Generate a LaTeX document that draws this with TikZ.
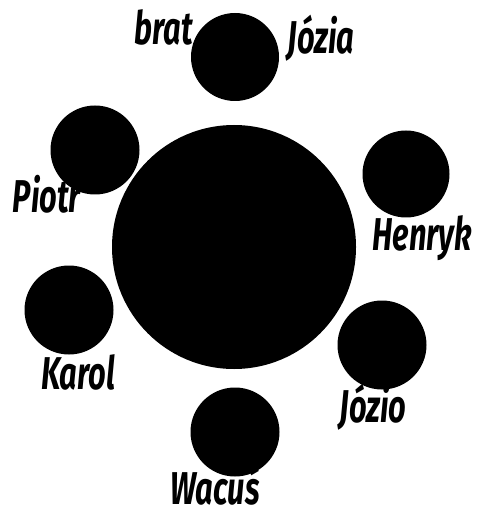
\documentclass[tikz,border=0pt]{standalone}
\usepackage{fontspec}
\newfontfamily\handfont{Fira Sans}
\tikzset{
  seat/.style={circle, fill=black, inner sep=0pt, minimum size=#1},
  guest/.style={font=\handfont\bfseries\itshape\fontsize{46}{46}\selectfont, xscale=0.67, inner sep=0pt}
}
\begin{document}
\begin{tikzpicture}[x=1pt, y=-1pt]
    \useasboundingbox (0,0) rectangle (482,518);
    % Table
    \node[seat=244pt] (table) at (234,247) {};

    % Chairs
    \node[seat=88pt] (top)      at (235,57)  {};
    \node[seat=89pt] (upleft)   at (95,150)  {};
    \node[seat=87pt] (right)    at (406,174) {};
    \node[seat=89pt] (left)     at (69,310)  {};
    \node[seat=89pt] (lowright) at (382,345) {};
    \node[seat=89pt] (bottom)   at (235,432) {};

    % Names
    \node[guest] (brat)   at (164,27)  {brat};
    \node[guest] (jozia)  at (321,38)  {Józia};
    \node[guest] (piotr)  at (47,194)  {Piotr};
    \node[guest] (henryk) at (422,238) {Henryk};
    \node[guest] (karol)  at (78,372)  {Karol};
    \node[guest] (jozio)  at (373,407) {Józio};
    \node[guest] (wacus)  at (215,486) {Wacuś};
\end{tikzpicture}
\end{document}
